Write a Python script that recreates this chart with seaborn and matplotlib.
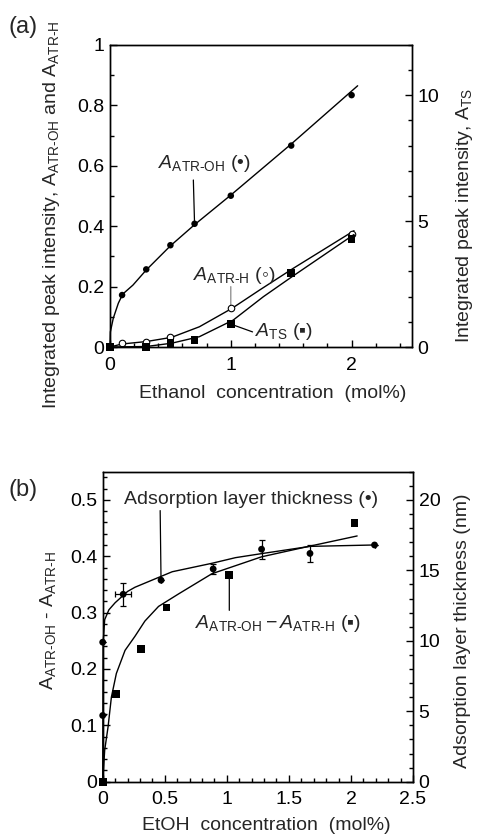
import matplotlib
matplotlib.use("Agg")
import matplotlib.pyplot as plt
import seaborn as sns
from matplotlib.ticker import MultipleLocator, FuncFormatter

# ---------------- Panel (a) data ----------------
a_x_oh = [0, 0.1, 0.3, 0.5, 0.7, 1.0, 1.5, 2.0]
a_oh = [0, 0.172, 0.257, 0.337, 0.408, 0.501, 0.667, 0.834]
a_x_h = [0.1, 0.3, 0.5, 1.0, 2.0]
a_h = [0.012, 0.018, 0.032, 0.128, 0.373]
a_x_ts = [0, 0.3, 0.5, 0.7, 1.0, 1.5, 2.0]
a_ts = [0, 0.0, 0.15, 0.28, 0.91, 2.95, 4.30]

# fitted curves
a_fit_x_oh = [0, 0.003, 0.027, 0.069, 0.105, 0.19, 0.3, 0.5, 0.7, 1.0, 1.5, 2.05]
a_fit_oh = [0, 0.05, 0.095, 0.145, 0.175, 0.205, 0.255, 0.335, 0.405, 0.503, 0.672, 0.865]
a_fit_x_h = [0, 0.1, 0.3, 0.51, 0.74, 1.01, 1.24, 1.515, 2.02]
a_fit_h = [0, 0.01, 0.018, 0.032, 0.067, 0.128, 0.189, 0.26, 0.385]
a_fit_x_ts = [0, 0.3, 0.51, 0.74, 1.02, 1.27, 1.515, 2.02]
a_fit_ts = [0, 0.02, 0.15, 0.41, 1.07, 2.0, 2.82, 4.47]

# ---------------- Panel (b) data ----------------
b_x_diff = [0, 0.106, 0.31, 0.515, 1.02, 2.03]
b_diff = [0, 0.156, 0.235, 0.309, 0.367, 0.459]
b_x_thick = [0, 0, 0, 0.165, 0.47, 0.89, 1.28, 1.67, 2.19]
b_thick = [0, 4.7, 9.9, 13.3, 14.3, 15.1, 16.5, 16.2, 16.8]
b_thick_yerr = [0, 0, 0, 0.8, 0, 0.33, 0.66, 0.6, 0]
b_thick_xerr = [0, 0, 0, 0.0625, 0, 0, 0, 0, 0]

b_fit_x_thick = [0, 0.003, 0.016, 0.05, 0.1, 0.2, 0.26, 0.56, 0.88, 1.07, 1.29, 1.67, 2.19]
b_fit_thick = [0, 9.8, 11.5, 12.2, 12.7, 13.5, 13.8, 14.9, 15.5, 15.9, 16.2, 16.7, 16.8]
b_fit_x_diff = [0, 0.016, 0.043, 0.07, 0.11, 0.18, 0.26, 0.34, 0.45, 0.61, 0.88, 1.28, 1.67, 2.05]
b_fit_diff = [0, 0.056, 0.097, 0.15, 0.192, 0.233, 0.258, 0.285, 0.311, 0.333, 0.369, 0.399, 0.418, 0.436]

# ---------------- style ----------------
sns.set_style("ticks")
plt.rcParams['font.family'] = ['Liberation Sans', 'DejaVu Sans']
plt.rcParams['mathtext.fontset'] = 'custom'
plt.rcParams['mathtext.rm'] = 'Liberation Sans'
plt.rcParams['mathtext.it'] = 'Liberation Sans:italic'
plt.rcParams['mathtext.bf'] = 'Liberation Sans:bold'
plt.rcParams['mathtext.fallback'] = 'stix'
plt.rcParams['font.size'] = 14

FS = 14
fmt = FuncFormatter(lambda v, p: f"{v:g}")

fig = plt.figure(figsize=(4.79, 8.38), dpi=100)
W, H = 479, 838
axa = fig.add_axes([110 / W, 1 - 347 / H, 302 / W, 302 / H])
axa2 = axa.twinx()
axb = fig.add_axes([102.7 / W, 1 - 781.7 / H, 310.3 / W, 310 / H])
axb2 = axb.twinx()


def style(ax, side):
    for s in ax.spines.values():
        s.set_linewidth(1.0)
        s.set_color('k')
        s.set_visible(True)
    ax.tick_params(which='both', direction='in', width=1.0, colors='k',
                   labelsize=FS, top=False)
    ax.tick_params(which='major', length=5)
    ax.tick_params(which='minor', length=3)
    if side == 'left':
        ax.tick_params(which='both', right=False, left=True, pad=4)
        ax.tick_params(axis='x', which='both', pad=7)
    else:
        ax.tick_params(which='both', left=False, right=True, pad=4)


# ---------------- Panel (a) ----------------
kw_line = dict(color='k', lw=1.0, sort=False, estimator=None, legend=False)
sns.lineplot(x=a_fit_x_oh, y=a_fit_oh, ax=axa, clip_on=False, **kw_line)
sns.lineplot(x=a_fit_x_h, y=a_fit_h, ax=axa, clip_on=False, **kw_line)
sns.lineplot(x=a_fit_x_ts, y=a_fit_ts, ax=axa2, clip_on=False, **kw_line)

sns.scatterplot(x=a_x_oh, y=a_oh, ax=axa, marker='o', s=22, color='k',
                edgecolor='none', clip_on=False, zorder=5, legend=False)
sns.scatterplot(x=a_x_h, y=a_h, ax=axa, marker='o', s=22, color='white',
                edgecolor='k', linewidth=0.8, clip_on=False, zorder=5, legend=False)
sns.scatterplot(x=a_x_ts, y=a_ts, ax=axa2, marker='s', s=30, color='k',
                edgecolor='none', clip_on=False, zorder=5, legend=False)

axa.set_xlim(0, 2.5)
axa.set_ylim(0, 1)
axa2.set_ylim(0, 12)
axa.xaxis.set_major_locator(MultipleLocator(1))
axa.xaxis.set_minor_locator(MultipleLocator(0.2))
axa.yaxis.set_major_locator(MultipleLocator(0.2))
axa.yaxis.set_minor_locator(MultipleLocator(0.1))
axa2.yaxis.set_major_locator(MultipleLocator(5))
axa2.yaxis.set_minor_locator(MultipleLocator(1))
for ax in (axa, axa2):
    ax.xaxis.set_major_formatter(fmt)
    ax.yaxis.set_major_formatter(fmt)
style(axa, 'left')
style(axa2, 'right')

axa.set_xlabel("Ethanol  concentration  (mol%)", fontsize=FS)
axa.set_ylabel(r"Integrated peak intensity, A$_{\mathrm{ATR\text{-}OH}}$ and A$_{\mathrm{ATR\text{-}H}}$",
               fontsize=FS)
axa2.set_ylabel(r"Integrated peak intensity, A$_{\mathrm{TS}}$", fontsize=FS)
axa.xaxis.set_label_coords(0.538, -0.125)
axa.yaxis.set_label_coords(-0.16, 0.437)
axa2.yaxis.set_label_coords(1.14, 0.437)

# annotations (a)
axa.text(0.785, 0.609, r"$A_{\mathrm{ATR\text{-}OH}}$ (•)", fontsize=FS,
         ha='center', va='center')
axa.annotate('', xy=(a_x_oh[4], a_oh[4]), xytext=(0.69, 0.553),
             arrowprops=dict(arrowstyle='-', lw=0.9, color='k', shrinkA=0, shrinkB=2))
axa.text(1.025, 0.238, r"$A_{\mathrm{ATR\text{-}H}}$ (◦)", fontsize=FS,
         ha='center', va='center')
axa.annotate('', xy=(a_x_h[3], a_h[3]), xytext=(1.0, 0.2),
             arrowprops=dict(arrowstyle='-', lw=0.9, color='#888888', shrinkA=0, shrinkB=2))
axa2.text(1.2, 0.6, r"$A_{\mathrm{TS}}$ (▪)", fontsize=FS, ha='left', va='center')
axa2.annotate('', xy=(a_x_ts[4], a_ts[4]), xytext=(1.18, 0.6),
              arrowprops=dict(arrowstyle='-', lw=0.9, color='k', shrinkA=0, shrinkB=2))

# ---------------- Panel (b) ----------------
sns.lineplot(x=b_fit_x_thick, y=b_fit_thick, ax=axb2, clip_on=False, **kw_line)
sns.lineplot(x=b_fit_x_diff, y=b_fit_diff, ax=axb, clip_on=False, **kw_line)

sns.scatterplot(x=b_x_diff, y=b_diff, ax=axb, marker='s', s=30, color='k',
                edgecolor='none', clip_on=False, zorder=5, legend=False)
sns.scatterplot(x=b_x_thick, y=b_thick, ax=axb2, marker='o', s=24, color='k',
                edgecolor='none', clip_on=False, zorder=5, legend=False)
axb2.errorbar(b_x_thick, b_thick, yerr=b_thick_yerr, xerr=b_thick_xerr, fmt='none',
              ecolor='k', elinewidth=0.9, capsize=2, capthick=0.9, clip_on=False, zorder=4)

axb.set_xlim(0, 2.5)
axb.set_ylim(0, 0.55)
axb2.set_ylim(0, 22)
axb.xaxis.set_major_locator(MultipleLocator(0.5))
axb.xaxis.set_minor_locator(MultipleLocator(0.1))
axb.yaxis.set_major_locator(MultipleLocator(0.1))
axb.yaxis.set_minor_locator(MultipleLocator(0.02))
axb2.yaxis.set_major_locator(MultipleLocator(5))
axb2.yaxis.set_minor_locator(MultipleLocator(1))
for ax in (axb, axb2):
    ax.xaxis.set_major_formatter(fmt)
    ax.yaxis.set_major_formatter(fmt)
style(axb, 'left')
style(axb2, 'right')

axb.set_xlabel("EtOH  concentration  (mol%)", fontsize=FS)
axb.set_ylabel(r"A$_{\mathrm{ATR\text{-}OH}}$ - A$_{\mathrm{ATR\text{-}H}}$", fontsize=FS)
axb2.set_ylabel("Adsorption layer thickness (nm)", fontsize=FS)
axb.xaxis.set_label_coords(0.526, -0.113)
axb.yaxis.set_label_coords(-0.145, 0.52)
axb2.yaxis.set_label_coords(1.132, 0.486)

axb.text(1.195, 0.5, "Adsorption layer thickness (•)", fontsize=FS,
         ha='center', va='center')
axb2.annotate('', xy=(b_x_thick[4], b_thick[4]), xytext=(0.463, 19.24),
              arrowprops=dict(arrowstyle='-', lw=0.9, color='k', shrinkA=0, shrinkB=2))
axb.text(1.415, 0.281, r"$A_{\mathrm{ATR\text{-}OH}} - A_{\mathrm{ATR\text{-}H}}$ (▪)",
         fontsize=FS, ha='center', va='center')
axb.annotate('', xy=(b_x_diff[4], b_diff[4]), xytext=(1.02, 0.304),
             arrowprops=dict(arrowstyle='-', lw=0.9, color='k', shrinkA=0, shrinkB=2))

fig.text(9 / W, 1 - 27 / H, "(a)", fontsize=17, va='center', ha='left')
fig.text(9 / W, 1 - 490 / H, "(b)", fontsize=17, va='center', ha='left')

fig.savefig("out.png", dpi=100)
